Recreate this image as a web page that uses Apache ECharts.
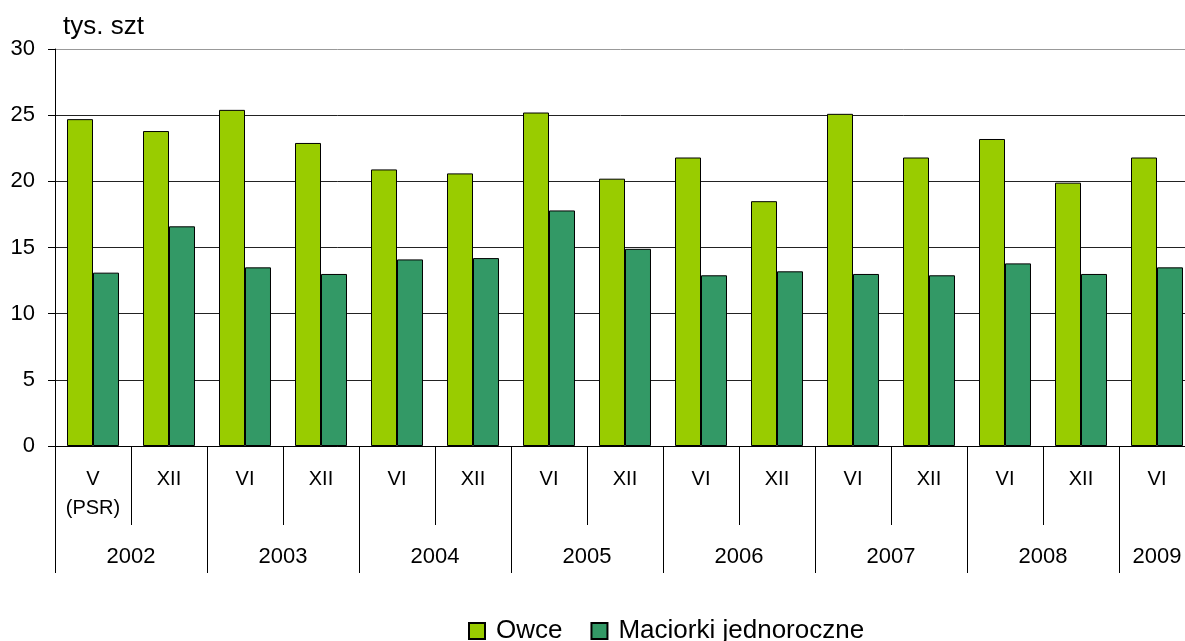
<!DOCTYPE html>
<html>
<head>
<meta charset="utf-8">
<script src="https://cdn.jsdelivr.net/npm/echarts@6/dist/echarts.min.js"></script>
<style>
  html, body { margin: 0; padding: 0; background: #fff; }
  #chart { width: 1185px; height: 641px; }
</style>
</head>
<body>
<div id="chart"></div>
<script>
// miesiące spisu (oś X, poziom 1)
const months = ['V\n(PSR)', 'XII', 'VI', 'XII', 'VI', 'XII', 'VI', 'XII', 'VI', 'XII', 'VI', 'XII', 'VI', 'XII', 'VI'];
// lata (oś X, poziom 2)
const years = ['2002', '2003', '2004', '2005', '2006', '2007', '2008', '2009'];
// tys. szt
const owce = [24.7, 23.8, 25.4, 22.9, 20.9, 20.6, 25.2, 20.2, 21.8, 18.5, 25.1, 21.8, 23.2, 19.9, 21.8];
const maciorki = [13.1, 16.6, 13.5, 13.0, 14.1, 14.2, 17.8, 14.9, 12.9, 13.2, 13.0, 12.9, 13.8, 13.0, 13.5];

const FONT = 'Liberation Sans, Arial, sans-serif';

const chart = echarts.init(document.getElementById('chart'));

const option = {
  animation: false,
  textStyle: { fontFamily: FONT },
  grid: {
    left: 55,
    top: 49,
    bottom: 195,
    width: 1140,  // ostatnia kategoria wychodzi poza obraz
    outerBoundsMode: 'none'
  },
  legend: {
    left: 463,
    top: 613,
    itemWidth: 16,
    itemHeight: 16,
    itemGap: 28,
    icon: 'rect',
    textStyle: { fontSize: 26, color: '#000', fontFamily: FONT, padding: [0, 0, 0, 6] },
    data: ['Owce', 'Maciorki jednoroczne']
  },
  xAxis: [
    {
      // miesiące
      type: 'category',
      data: months,
      axisLine: { lineStyle: { color: '#000', width: 1 } },
      axisTick: { show: true, length: 79, lineStyle: { color: '#000' } },
      axisLabel: {
        interval: 0,
        margin: 19,
        fontSize: 20,
        lineHeight: 29,
        color: '#000'
      }
    },
    {
      // kreski między latami
      type: 'value',
      position: 'bottom',
      min: 0,
      max: 15,
      interval: 2,
      axisLine: { show: false },
      axisTick: { show: true, length: 127, lineStyle: { color: '#000' } },
      axisLabel: { show: false },
      splitLine: { show: false }
    },
    {
      // podpisy lat
      type: 'value',
      position: 'bottom',
      min: 0,
      max: 15,
      interval: 0.5,
      axisLine: { show: false },
      axisTick: { show: false },
      splitLine: { show: false },
      axisLabel: {
        margin: 100,
        fontSize: 22,
        color: '#000',
        showMinLabel: false,
        showMaxLabel: false,
        formatter: function (v) {
          if (v === 14.5) return years[7];
          if (v % 2 === 1 && v < 14) return years[(v - 1) / 2];
          return '';
        }
      }
    }
  ],
  yAxis: {
    type: 'value',
    min: 0,
    max: 30,
    interval: 5,
    name: 'tys. szt',
    nameLocation: 'end',
    nameGap: 9,
    nameTextStyle: { fontSize: 26, color: '#000', align: 'left', padding: [0, 0, 0, 8] },
    axisLine: { show: true, lineStyle: { color: '#000' } },
    axisTick: { show: true, length: 7, lineStyle: { color: '#000' } },
    axisLabel: { fontSize: 22, color: '#000', margin: 20 },
    splitLine: {
      lineStyle: { color: ['#222', '#222', '#222', '#222', '#222', '#222', '#999'], width: 1 }
    }
  },
  series: [
    {
      name: 'Owce',
      type: 'bar',
      xAxisIndex: 0,
      barGap: '0%',
      barCategoryGap: '31.6%',
      itemStyle: { color: '#99CC00', borderColor: '#000', borderWidth: 1 },
      data: owce
    },
    {
      name: 'Maciorki jednoroczne',
      type: 'bar',
      xAxisIndex: 0,
      barGap: '0%',
      barCategoryGap: '31.6%',
      itemStyle: { color: '#339966', borderColor: '#000', borderWidth: 1 },
      data: maciorki
    }
  ]
};

chart.setOption(option);
</script>
</body>
</html>
